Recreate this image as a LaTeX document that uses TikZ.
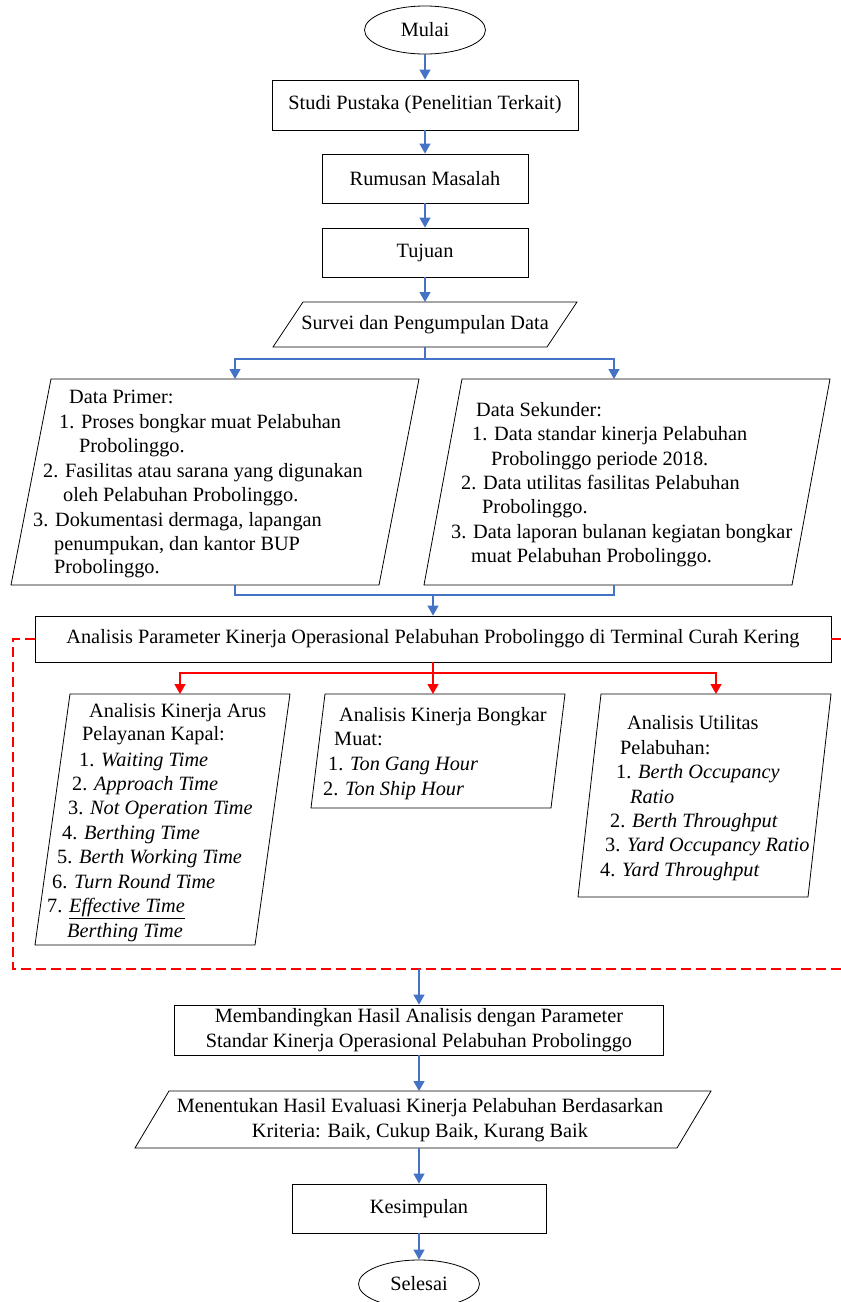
\documentclass[tikz,border=0pt]{standalone}
\usepackage{fontspec}
\setmainfont{Liberation Serif}
\usetikzlibrary{arrows.meta,shapes.geometric}
\definecolor{flowblue}{RGB}{68,114,196}
\newcommand\flowfont{\fontsize{20.3}{24.5}\selectfont}
\tikzset{
	box/.style={draw, line width=0.8pt, inner sep=0pt, align=center},
	term/.style={draw, ellipse, line width=0.8pt, minimum width=121pt, minimum height=48pt, inner sep=0pt},
	slanted/.style={draw, line width=0.8pt},
	txt/.style={anchor=base west, inner sep=0pt},
	flow/.style={draw=flowblue, line width=1.3pt, -{Triangle[width=11pt,length=10pt]}},
	flowline/.style={draw=flowblue, line width=1.3pt},
	redflow/.style={draw=red, line width=1.3pt, -{Triangle[width=11pt,length=10pt]}},
	redline/.style={draw=red, line width=1.3pt},
	reddash/.style={draw=red, line width=1.3pt, dash pattern=on 10pt off 5pt}
}

\begin{document}
\begin{tikzpicture}[x=1pt, y=-1pt, font=\flowfont]
		\useasboundingbox (0,0) rectangle (841,1302);
		
		%%%%% START %%%%%
		
		\node[term] (mulai) at (425,30) {Mulai};
		\node[box, minimum width=306pt, minimum height=50pt] (studi) at (425,105) {Studi Pustaka (Penelitian Terkait)};
		\node[box, minimum width=206pt, minimum height=49pt] (rumusan) at (425,178.5) {Rumusan Masalah};
		\node[box, minimum width=206pt, minimum height=49pt] (tujuan) at (425,252.5) {Tujuan};
		
		\draw[slanted] (303,302) -- (577,302) -- (547,347) -- (273,347) -- cycle;
		\node (survei) at (425,324.5) {Survei dan Pengumpulan Data};
		\coordinate (survei-n) at (425,302);
		\coordinate (survei-s) at (425,347);
		
		\draw[flow] (mulai) -- (studi);
		\draw[flow] (studi) -- (rumusan);
		\draw[flow] (rumusan) -- (tujuan);
		\draw[flow] (tujuan) -- (survei-n);
		
		% data primer dan sekunder
		\draw[slanted] (51,379) -- (419,379) -- (379,585) -- (11,585) -- cycle;
		\draw[slanted] (462,379) -- (830,379) -- (792,585) -- (424,585) -- cycle;
		\coordinate (primer-n) at (235,379);
		\coordinate (primer-s) at (235,585);
		\coordinate (sekunder-n) at (614,379);
		\coordinate (sekunder-s) at (614,585);
		
		\foreach \x/\y/\t [count=\i] in {69/403/Data Primer:, 59/428/1. Proses bongkar muat Pelabuhan,
			79/452/Probolinggo., 43/477/2. Fasilitas atau sarana yang digunakan, 63/501/oleh Pelabuhan Probolinggo.,
			33/526/3. Dokumentasi dermaga{,} lapangan, 54/550/{penumpukan, dan kantor BUP}, 54/573/Probolinggo.}
			\node[txt] (primer\i) at (\x,\y) {\t};
		
		\foreach \x/\y/\t [count=\i] in {476/416/Data Sekunder:, 472/440/1. Data standar kinerja Pelabuhan,
			491/465/Probolinggo periode 2018., 461/489/2. Data utilitas fasilitas Pelabuhan, 482/513/Probolinggo.,
			451/538/3. Data laporan bulanan kegiatan bongkar, 471/562/muat Pelabuhan Probolinggo.}
			\node[txt] (sekunder\i) at (\x,\y) {\t};
		
		\coordinate (split) at (425,359);
		\draw[flowline] (survei-s) -- (split);
		\draw[flow] (split) -| (primer-n);
		\draw[flow] (split) -| (sekunder-n);
		
		\node[box, minimum width=796pt, minimum height=46pt] (analisis) at (433,639) {Analisis Parameter Kinerja Operasional Pelabuhan Probolinggo di Terminal Curah Kering};
		
		\coordinate (join) at (433,595);
		\draw[flowline] (primer-s) |- (join);
		\draw[flowline] (sekunder-s) |- (join);
		\draw[flow] (join) -- (analisis);
		
		% tiga analisis
		\draw[slanted] (70,694) -- (290,694) -- (255,945) -- (35,945) -- cycle;
		\draw[slanted] (325,694) -- (565,694) -- (551,808) -- (311,808) -- cycle;
		\draw[slanted] (601,694) -- (831,694) -- (808,897) -- (578,897) -- cycle;
		\coordinate (arus-n) at (180,694);
		\coordinate (bongkar-n) at (433,694);
		\coordinate (utilitas-n) at (716,694);
		
		\foreach \x/\y/\t [count=\i] in {89/717/Analisis Kinerja Arus, 82/740/Pelayanan Kapal:,
			79/766/1. \textit{Waiting Time}, 72/790/2. \textit{Approach Time}, 68/814/3. \textit{Not Operation Time},
			62/839/4. \textit{Berthing Time}, 57/863/5. \textit{Berth Working Time}, 52/888/6. \textit{Turn Round Time},
			47/912/7. \underline{\textit{Effective Time}}, 67/937/\textit{Berthing Time}}
			\node[txt] (arus\i) at (\x,\y) {\t};
		
		\foreach \x/\y/\t [count=\i] in {339/721/Analisis Kinerja Bongkar, 334/745/Muat:,
			328/770/1. \textit{Ton Gang Hour}, 323/795/2. \textit{Ton Ship Hour}}
			\node[txt] (bongkar\i) at (\x,\y) {\t};
		
		\foreach \x/\y/\t [count=\i] in {627/729/Analisis Utilitas, 620/754/Pelabuhan:,
			616/778/1. \textit{Berth Occupancy}, 630/803/\textit{Ratio}, 610/827/2. \textit{Berth Throughput},
			605/851/3. \textit{Yard Occupancy Ratio}, 600/876/4. \textit{Yard Throughput}}
			\node[txt] (utilitas\i) at (\x,\y) {\t};
		
		\coordinate (redsplit) at (433,673);
		\draw[redline] (analisis) -- (redsplit);
		\draw[redflow] (redsplit) -| (arus-n);
		\draw[redflow] (redsplit) -- (bongkar-n);
		\draw[redflow] (redsplit) -| (utilitas-n);
		
		\draw[reddash] (analisis.east) -- (860,639);
		\draw[reddash] (analisis.west) -- (13,639) -- (13,969) -- (860,969);
		\coordinate (dash-s) at (419,969);
		
		% evaluasi
		\node[box, minimum width=489pt, minimum height=50pt] (banding) at (419,1030) {Membandingkan Hasil Analisis dengan Parameter\\Standar Kinerja Operasional Pelabuhan Probolinggo};
		
		\draw[slanted] (169,1091) -- (711,1091) -- (677,1148) -- (135,1148) -- cycle;
		\node[align=center] (tentukan) at (420,1120) {Menentukan Hasil Evaluasi Kinerja Pelabuhan Berdasarkan\\Kriteria: Baik, Cukup Baik, Kurang Baik};
		\coordinate (tentukan-n) at (419,1091);
		\coordinate (tentukan-s) at (419,1148);
		
		\node[box, minimum width=254pt, minimum height=49pt] (kesimpulan) at (419,1208.5) {Kesimpulan};
		\node[term] (selesai) at (419,1284) {Selesai};
		
		\draw[flow] (dash-s) -- (banding);
		\draw[flow] (banding) -- (tentukan-n);
		\draw[flow] (tentukan-s) -- (kesimpulan);
		\draw[flow] (kesimpulan) -- (selesai);
		
		%%%%% END %%%%%
\end{tikzpicture}
\end{document}
